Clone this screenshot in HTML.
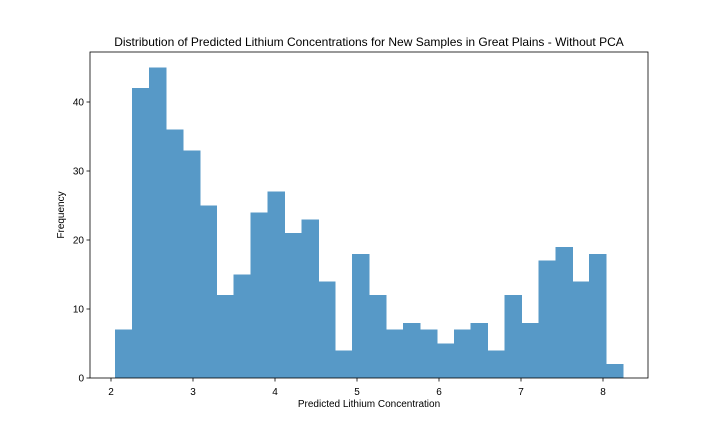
<!DOCTYPE html>
<html><head><meta charset="utf-8"><style>
body{margin:0;background:#fff;width:720px;height:432px;overflow:hidden;font-family:"Liberation Sans",sans-serif}
</style></head><body>
<svg id="chart" width="720" height="432" xmlns="http://www.w3.org/2000/svg" font-family="Liberation Sans, sans-serif"></svg>
<script>
const counts=[7,42,45,36,33,25,12,15,24,27,21,23,14,4,18,12,7,8,7,5,7,8,4,12,8,17,19,14,18,2];
const binStart=2.05, binEnd=8.245;
const xTicks=[2,3,4,5,6,7,8];
const yTicks=[0,10,20,30,40];
const L=90,R=648,T=52,B=378;
const xs=v=>111+(v-2)*82;
const ys=v=>B-v*6.9;
const svg=document.getElementById('chart');
const NS='http://www.w3.org/2000/svg';
function mk(t,a,p){const e=document.createElementNS(NS,t);for(const k in a)e.setAttribute(k,a[k]);(p||svg).appendChild(e);return e;}
const w=(binEnd-binStart)/counts.length;
counts.forEach((c,i)=>{
  const x0=xs(binStart+i*w),x1=xs(binStart+(i+1)*w);
  const r=mk('rect',{x:x0,y:ys(c),width:x1-x0+0.5,height:B-ys(c),fill:'#5799c7','shape-rendering':'crispEdges'});
  
  
});
const frame=mk('rect',{x:L,y:T,width:R-L,height:B-T,fill:'none',stroke:'#000','stroke-width':0.8});


xTicks.forEach(v=>{
  mk('line',{x1:xs(v),x2:xs(v),y1:B,y2:B+3.5,stroke:'#000','stroke-width':0.8});
  const t=mk('text',{x:xs(v),y:B+17,'font-size':10,'text-anchor':'middle'});t.textContent=v;
  
  
});
yTicks.forEach(v=>{
  mk('line',{x1:L-3.5,x2:L,y1:ys(v),y2:ys(v),stroke:'#000','stroke-width':0.8});
  const t=mk('text',{x:L-6,y:ys(v)+3.5,'font-size':10,'text-anchor':'end'});t.textContent=v;
  
  
});
const title=mk('text',{x:369,y:46,'font-size':12,'text-anchor':'middle'});
title.textContent='Distribution of Predicted Lithium Concentrations for New Samples in Great Plains - Without PCA';


const xl=mk('text',{x:369,y:407,'font-size':10,'text-anchor':'middle'});
xl.textContent='Predicted Lithium Concentration';


const yl=mk('text',{x:64,y:215,'font-size':10,'text-anchor':'middle',transform:'rotate(-90 64 215)'});
yl.textContent='Frequency';


</script>
</body></html>
